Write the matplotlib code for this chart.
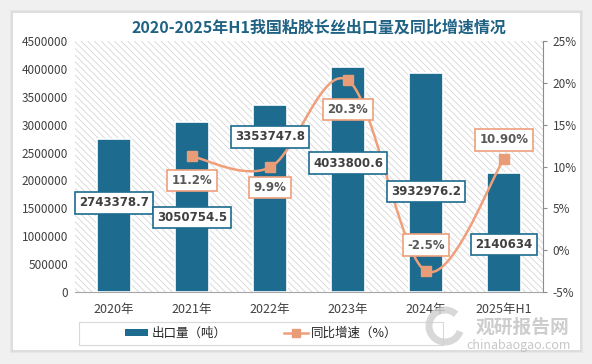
import numpy as np
import matplotlib
matplotlib.use('Agg')
import matplotlib.pyplot as plt
from matplotlib.patches import Rectangle, Arc, Patch
from matplotlib.lines import Line2D
from matplotlib.ticker import FuncFormatter, MultipleLocator

plt.rcParams['font.family'] = ['Noto Sans CJK SC', 'DejaVu Sans']
plt.rcParams['hatch.linewidth'] = 0.6
plt.rcParams['hatch.color'] = '#D6D6D6'

# data
years = ['2020年', '2021年', '2022年', '2023年', '2024年', '2025年H1']
export_t = [2743378.7, 3050754.5, 3353747.8, 4033800.6, 3932976.2, 2140634]
export_text = ['2743378.7', '3050754.5', '3353747.8', '4033800.6', '3932976.2', '2140634']
growth_years = [1, 2, 3, 4, 5]
growth = [11.2, 9.9, 20.3, -2.5, 10.90]
growth_text = ['11.2%', '9.9%', '20.3%', '-2.5%', '10.90%']

# label offsets in pixels (layout only)
bar_off = [-64, -96, -32, -96, -119, -72]
line_off = [-24, -20, -29, 26, 19]

BLUE = '#1D6B8F'
ORANGE = '#EFA07B'
GREY_TXT = '#404040'

W, H = 592, 364
fig = plt.figure(figsize=(W / 100, H / 100), dpi=100, facecolor='#F0F0F0')

# card with soft shadow
for i, c in enumerate(['#E6E6E6', '#DDDDDD']):
    fig.patches.append(Rectangle(((13 - 3 + i) / W, 1 - (350 + 3 - i) / H),
                                 (567 + 6 - 2 * i) / W, (337 + 6 - 2 * i) / H,
                                 transform=fig.transFigure, facecolor=c, edgecolor='none', zorder=-3))
fig.patches.append(Rectangle((13 / W, 1 - 350 / H), 567 / W, 337 / H,
                             transform=fig.transFigure, facecolor='white', edgecolor='none', zorder=-2))

ax = fig.add_axes([75 / W, 1 - 292 / H, 468 / W, 251 / H])
ax2 = ax.twinx()
ax.patch.set_visible(False)

x = np.arange(len(years))
ax.add_patch(Rectangle((0, 0), 1, 1, transform=ax.transAxes, facecolor='white',
                       hatch='\\\\\\\\\\', edgecolor='#D6D6D6', lw=0, zorder=0))
ax.bar(x, export_t, width=0.44, color=BLUE, edgecolor='white', linewidth=1.2, zorder=2)

ax.set_xlim(-0.5, 5.5)
ax.set_ylim(0, 4500000)
ax2.set_ylim(-5, 25)
ax.yaxis.set_major_locator(MultipleLocator(500000))
ax2.yaxis.set_major_locator(MultipleLocator(5))
ax.yaxis.set_major_formatter(FuncFormatter(lambda v, p: f'{int(v)}'))
ax2.yaxis.set_major_formatter(FuncFormatter(lambda v, p: f'{int(v)}%'))

for a in (ax, ax2):
    for s in ['top', 'left']:
        a.spines[s].set_visible(False)
ax.spines['right'].set_visible(False)
ax2.spines['bottom'].set_visible(False)
ax.spines['bottom'].set_color('#A6A6A6')
ax2.spines['right'].set_color('#8C8C8C')

ax.set_xticks(x)
ax.set_xticklabels(years)
ax.tick_params(axis='x', length=0, pad=8, labelsize=9, labelcolor=GREY_TXT)
ax.tick_params(axis='y', length=0, pad=5, labelsize=8.5, labelcolor=GREY_TXT)
ax2.tick_params(axis='y', length=3, width=0.8, color='#8C8C8C', pad=4, labelsize=8.5, labelcolor=GREY_TXT)

# smoothed line (Catmull-Rom through points, in pixel-like space)
sx, sy = 78.0, 251 / 30.0
P = np.column_stack([np.array(growth_years) * sx, np.array(growth) * sy])
Pe = np.vstack([P[0], P, P[-1]])
curve = []
t = np.linspace(0, 1, 40)[:, None]
for i in range(len(P) - 1):
    p0, p1, p2, p3 = Pe[i], Pe[i + 1], Pe[i + 2], Pe[i + 3]
    c1 = p1 + (p2 - p0) / 6
    c2 = p2 - (p3 - p1) / 6
    seg = ((1 - t) ** 3) * p1 + 3 * ((1 - t) ** 2) * t * c1 + 3 * (1 - t) * t ** 2 * c2 + t ** 3 * p2
    curve.append(seg)
curve = np.vstack(curve)
ax2.plot(curve[:, 0] / sx, curve[:, 1] / sy, color=ORANGE, lw=1.8, zorder=3)
ax2.plot(growth_years, growth, ls='none', marker='s', ms=7, color='#E99C78', zorder=4)

# labels
for xi, v, s, off in zip(x, export_t, export_text, bar_off):
    ax2.annotate(s, xy=(xi, v), xycoords=ax.transData, xytext=(0, off), textcoords='offset pixels',
                 ha='center', va='center', fontsize=8.5, fontweight='bold', color=GREY_TXT,
                 bbox=dict(boxstyle='square,pad=0.35', fc='white', ec=BLUE, lw=1.2), zorder=6,
                 family=['DejaVu Sans'])
for xi, v, s, off in zip(growth_years, growth, growth_text, line_off):
    ax2.annotate(s, xy=(xi, v), xytext=(0, off), textcoords='offset pixels',
                 ha='center', va='center', fontsize=8.5, fontweight='bold', color='#595959',
                 bbox=dict(boxstyle='square,pad=0.35', fc='white', ec=ORANGE, lw=1.2), zorder=6,
                 family=['DejaVu Sans'])

fig.text(319 / W, 1 - 28 / H, '2020-2025年H1我国粘胶长丝出口量及同比增速情况', ha='center', va='center',
         fontsize=11.5, fontweight='bold', color='#1F6284')

# legend
fig.patches.append(Rectangle((79 / W, 1 - 345 / H), 364 / W, 23 / H, transform=fig.transFigure,
                             facecolor='white', edgecolor='#D9D9D9', lw=0.8, zorder=1))
handles = [Patch(facecolor=BLUE, edgecolor='none'),
           Line2D([], [], color=ORANGE, lw=1.8, marker='s', ms=6, markerfacecolor='#E99C78', markeredgecolor='#E99C78')]
leg = fig.legend(handles, ['出口量（吨）', '同比增速（%）'], loc='center', ncol=2, frameon=False,
                 bbox_to_anchor=(261 / W, 1 - 333.5 / H), fontsize=9, handlelength=1.9,
                 handleheight=0.5, handletextpad=0.25, columnspacing=4.6)
for txt in leg.get_texts():
    txt.set_color('#262626')

# watermark
fig.patches.append(Arc((445 / W, 1 - 326 / H), 32 / W, 32 / H, theta1=60, theta2=330,
                       transform=fig.transFigure, color='#CFCFCF', lw=5, alpha=0.8, zorder=8))
fig.text(522 / W, 1 - 327 / H, '观研报告网', ha='center', va='center', fontsize=13.5, fontweight='bold',
         color='#BDBDBD', alpha=0.75, zorder=8)
fig.text(519 / W, 1 - 346 / H, 'chinabaogao.com', ha='center', va='center', fontsize=9,
         color='#BDBDBD', alpha=0.85, zorder=8)

fig.savefig('out.png', dpi=100, facecolor=fig.get_facecolor())
